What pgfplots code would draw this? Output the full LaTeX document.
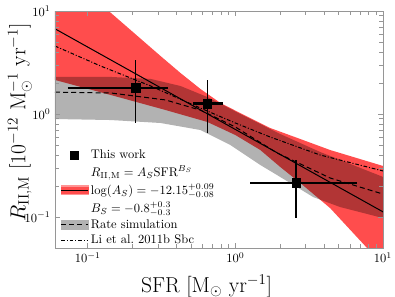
\documentclass[border=0pt]{standalone}
\usepackage{pgfplots}
\pgfplotsset{compat=1.18}
\begin{document}
\begin{tikzpicture}
\definecolor{lred}{RGB}{255,77,77}
\definecolor{axgray}{RGB}{150,150,150}
\begin{axis}[
  name=ax,
  xmode=log, ymode=log,
  scale only axis, width=262.4pt, height=189.6pt,
  xmin=0.06, xmax=10, ymin=0.05, ymax=10,
  axis on top,
  axis line style={draw=axgray, line width=0.7pt},
  tick style={draw=axgray, line width=0.5pt},
  tick align=inside,
  xtick={0.1,1,10}, ytick={0.1,1,10},
  xlabel={SFR [M$_\odot$ yr$^{-1}$]},
  ylabel={$R_{\rm II,M}$ [$10^{-12}$ M$_\odot^{-1}$ yr$^{-1}$]},
  label style={font=\LARGE},
  xlabel style={xshift=-10pt, yshift=-3pt},
  ylabel style={at={(axis description cs:-0.107,0.53)}, anchor=center},
  legend cell align=left,
  legend style={at={(0.005,-0.012)}, anchor=south west, draw=none, fill=none, font=\normalsize, row sep=0pt},
]
% red fit band
\addplot[draw=none, fill=lred, forget plot] coordinates {
(0.06,28) (0.1387,10.0) (0.311,3.66) (0.425,2.50) (0.580,1.75) (0.792,1.28) (1.081,1.02) (1.723,0.731) (2.75,0.572) (4.385,0.447) (10,0.313)
(10,0.035) (7.80,0.050) (4.385,0.122) (2.75,0.214) (2.014,0.306) (1.475,0.447) (1.0,0.625) (0.647,0.836) (0.336,1.094) (0.143,1.53) (0.06,2.14)
} -- cycle;
% gray simulation band
\addplot[draw=none, fill=black, fill opacity=0.3, forget plot] coordinates {
(0.06,2.29) (0.143,2.29) (0.267,2.19) (0.425,1.87) (0.647,1.46) (1.081,1.0) (2.014,0.639) (3.75,0.428) (10,0.245)
(10,0.0977) (5.12,0.125) (3.37,0.156) (2.35,0.214) (1.475,0.320) (0.925,0.500) (0.580,0.699) (0.311,0.818) (0.143,0.874) (0.06,0.894)
} -- cycle;
% fit line
\addplot[black, line width=0.8pt, forget plot] coordinates {(0.06,6.72) (10,0.1122)};
% rate simulation
\addplot[black, line width=0.8pt, dash pattern=on 4pt off 2.5pt, forget plot] coordinates {
(0.06,1.63) (0.143,1.60) (0.336,1.37) (0.58,1.09) (1,0.748) (1.92,0.418) (4.39,0.239) (10,0.167)};
% Li et al.
\addplot[black, line width=0.8pt, dash pattern=on 3pt off 1.5pt on 0.8pt off 1.5pt, forget plot] coordinates {
(0.06,4.57) (0.1225,2.92) (0.267,1.87) (0.581,1.14) (1,0.818) (1.72,0.598) (3.75,0.400) (10,0.280)};
% error bars
\addplot[black, line width=2pt, forget plot] coordinates {(0.073,1.79) (0.352,1.79)};
\addplot[black, line width=1.4pt, forget plot] coordinates {(0.211,0.82) (0.211,3.34)};
\addplot[black, line width=2pt, forget plot] coordinates {(0.52,1.26) (0.82,1.26)};
\addplot[black, line width=1.4pt, forget plot] coordinates {(0.647,0.65) (0.647,2.14)};
\addplot[black, line width=2pt, forget plot] coordinates {(1.26,0.214) (6.67,0.214)};
\addplot[black, line width=1.4pt, forget plot] coordinates {(2.58,0.098) (2.58,0.357)};
% data points
\addplot[only marks, mark=square*, mark size=3.4pt, black, forget plot] coordinates {(0.211,1.79) (0.647,1.26) (2.58,0.214)};
% legend
\addlegendimage{legend image code/.code={\fill[black] (0.375cm-3.2pt,-3.2pt) rectangle (0.375cm+3.2pt,3.2pt);}}
\addlegendentry{This work}
\addlegendimage{legend image code/.code={\path[draw=none, fill=none] (0cm,0cm) -- (0.75cm,0cm);}}
\addlegendentry{$R_{\rm II,M}=A_S{\rm SFR}^{B_S}$}
\addlegendimage{legend image code/.code={\fill[lred!60] (0cm,-0.13cm) rectangle (0.75cm,0.13cm); \fill[lred] (0cm,-0.08cm) rectangle (0.75cm,0.08cm); \draw[black, line width=0.8pt] (0cm,0cm) -- (0.75cm,0cm);}}
\addlegendentry{$\log(A_S)=-12.15^{+0.09}_{-0.08}$}
\addlegendimage{legend image code/.code={\path[draw=none, fill=none] (0cm,0cm) -- (0.75cm,0cm);}}
\addlegendentry{$B_S=-0.8^{+0.3}_{-0.3}$}
\addlegendimage{legend image code/.code={\fill[black!30] (0cm,-0.12cm) rectangle (0.75cm,0.12cm); \draw[black, line width=0.8pt, dash pattern=on 4pt off 2.5pt] (0cm,0cm) -- (0.75cm,0cm);}}
\addlegendentry{Rate simulation}
\addlegendimage{legend image code/.code={\draw[black, line width=0.8pt, dash pattern=on 3pt off 1.5pt on 0.8pt off 1.5pt] (0cm,0cm) -- (0.75cm,0cm);}}
\addlegendentry{Li et al.\ 2011b Sbc}
\end{axis}
\pgfresetboundingbox
\path[use as bounding box] ([shift={(-44pt,-38.4pt)}]ax.south west) rectangle ([shift={(9.6pt,8.8pt)}]ax.north east);
\end{tikzpicture}
\end{document}
